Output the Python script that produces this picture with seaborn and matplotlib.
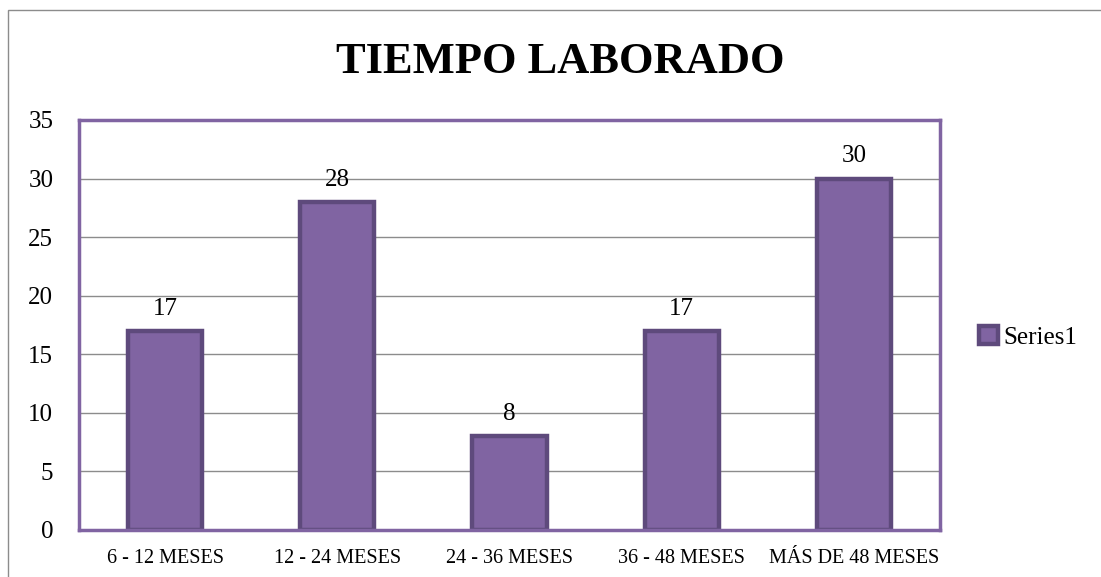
import pandas as pd
import matplotlib.pyplot as plt
import seaborn as sns
from matplotlib.patches import Rectangle

# Chart data
categories = ['6 - 12 MESES', '12 - 24 MESES', '24 - 36 MESES', '36 - 48 MESES', 'MÁS DE 48 MESES']
values = [17, 28, 8, 17, 30]
series_name = 'Series1'
title = 'TIEMPO LABORADO'

df = pd.DataFrame({'categoria': categories, 'valor': values, 'serie': series_name})

sns.set_style('white')
plt.rcParams['font.family'] = ['Liberation Serif', 'DejaVu Serif']
plt.rcParams['text.color'] = 'black'
plt.rcParams['xtick.color'] = 'black'
plt.rcParams['ytick.color'] = 'black'

fig = plt.figure(figsize=(11.01, 5.77), dpi=100)
ax = fig.add_axes([79 / 1101, 1 - 530 / 577, (940 - 79) / 1101, (530 - 120) / 577])

sns.barplot(data=df, x='categoria', y='valor', hue='serie', ax=ax,
            palette=['#8064A2'], saturation=1, width=0.43,
            edgecolor='#5E4A7C', linewidth=3.2, legend=True)

# outer chart border
fig.patches.append(Rectangle((8 / 1101, -0.1), 1.2, 1 - 10 / 577 + 0.1,
                             transform=fig.transFigure, fill=False,
                             edgecolor='#8C8C8C', linewidth=1.0))

ax.set_ylim(0, 35)
ax.set_yticks(range(0, 36, 5))
ax.yaxis.grid(True, color='#8C8C8C', linewidth=1.0)
ax.set_axisbelow(True)
for s in ax.spines.values():
    s.set_visible(True)
    s.set_color('#8064A2')
    s.set_linewidth(2.5)

ax.set_xlabel('')
ax.set_ylabel('')
ax.tick_params(axis='y', labelsize=18, length=0, pad=18.5)
ax.tick_params(axis='x', labelsize=14.5, length=0, pad=14)

for c in ax.containers:
    ax.bar_label(c, fontsize=18, padding=8)

fig.text(560 / 1101, 1 - 62 / 577, title, ha='center', va='center',
         fontsize=32, fontweight='bold')

ax.legend(loc='center left', bbox_to_anchor=(1.019, 0.47), frameon=False,
          fontsize=18, handlelength=0.75, handleheight=0.75, handletextpad=0.25)

fig.savefig('out.png', dpi=100)
